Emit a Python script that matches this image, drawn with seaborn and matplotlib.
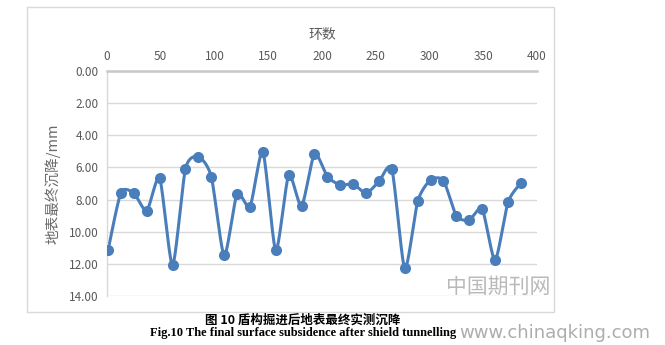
import numpy as np
import pandas as pd
import matplotlib
matplotlib.use("Agg")
import matplotlib.pyplot as plt
import seaborn as sns
from matplotlib.patches import Rectangle

# ---- data ----
rings = [1, 13, 25, 37, 49, 61, 73, 85, 97, 109, 121, 133, 145, 157, 169, 181, 193,
         205, 217, 229, 241, 253, 265, 277, 289, 301, 313, 325, 337, 349, 361, 373, 385]
settlement = [11.14, 7.57, 7.61, 8.69, 6.68, 12.07, 6.08, 5.33, 6.57, 11.47, 7.65, 8.44,
              5.04, 11.16, 6.49, 8.40, 5.16, 6.57, 7.09, 7.03, 7.61, 6.87, 6.12, 12.28,
              8.11, 6.78, 6.82, 9.02, 9.27, 8.59, 11.76, 8.17, 6.97]
x_ticks = [0, 50, 100, 150, 200, 250, 300, 350, 400]
y_ticks = [0, 2, 4, 6, 8, 10, 12, 14]
x_title = "环数"
y_title = "地表最终沉降/mm"
caption_cn = "图 10 盾构掘进后地表最终实测沉降"
caption_en = "Fig.10 The final surface subsidence after shield tunnelling"

sns.set_theme(style="white")
plt.rcParams['font.family'] = ['Noto Sans CJK SC', 'DejaVu Sans']

W, H = 665, 345
fig = plt.figure(figsize=(W / 100, H / 100), dpi=100)
fig.patch.set_facecolor("white")

# chart border
fig.patches.append(Rectangle((27 / W, 1 - 312 / H), (554 - 27) / W, (312 - 7) / H,
                             transform=fig.transFigure, fill=False,
                             edgecolor="#d9d9d9", linewidth=1.0))

ax = fig.add_axes([107 / W, 1 - 296 / H, (537 - 107) / W, (296 - 71) / H])

# smoothed line (cardinal spline through the data points, like Excel's smoothed line)
P = np.column_stack([np.array(rings, float), np.array(settlement, float)])
n = len(P)
tension = 0.7
M = np.zeros_like(P)
for i in range(n):
    a = P[max(i - 1, 0)]
    b = P[min(i + 1, n - 1)]
    M[i] = tension * (b - a) / 2.0
sx, sy = [], []
ts = np.linspace(0, 1, 30)
for i in range(n - 1):
    p1, p2, m1, m2 = P[i], P[i + 1], M[i], M[i + 1]
    tt = ts if i == n - 2 else ts[:-1]
    for t in tt:
        h00 = 2 * t**3 - 3 * t**2 + 1
        h10 = t**3 - 2 * t**2 + t
        h01 = -2 * t**3 + 3 * t**2
        h11 = t**3 - t**2
        pt = h00 * p1 + h10 * m1 + h01 * p2 + h11 * m2
        sx.append(pt[0]); sy.append(pt[1])
smooth = pd.DataFrame({"x": sx, "y": sy})
pts = pd.DataFrame({"x": rings, "y": settlement})

color = "#4A7EBB"
sns.lineplot(data=smooth, x="x", y="y", sort=False, estimator=None, ax=ax,
             color=color, linewidth=2.2)
sns.scatterplot(data=pts, x="x", y="y", ax=ax, color=color, s=64,
                edgecolor=color, linewidth=0, zorder=5)

ax.set_xlim(0, 400)
ax.set_ylim(14, 0)
ax.set_xticks(x_ticks)
ax.set_yticks(y_ticks)
ax.set_yticklabels([f"{v:.2f}" for v in y_ticks])
ax.xaxis.tick_top()
ax.xaxis.set_label_position("top")
ax.tick_params(axis="both", length=0, labelsize=8.5, labelcolor="#595959", pad=6)
ax.set_xlabel(x_title, fontsize=10, color="#595959", labelpad=8)
ax.set_ylabel(y_title, fontsize=10.5, color="#6a6a6a", labelpad=6)
ax.grid(axis="y", color="#d9d9d9", linewidth=1.0)
ax.grid(axis="x", visible=False)
for side in ["right", "bottom"]:
    ax.spines[side].set_visible(False)
ax.spines["top"].set_color("#c8c8c8")
ax.spines["top"].set_linewidth(1.8)
ax.spines["left"].set_color("#d9d9d9")
ax.spines["left"].set_linewidth(1.0)

# captions
fig.text(303 / W, 1 - 320 / H, caption_cn, ha="center", va="center", fontsize=9,
         fontweight="bold", family=['Noto Sans CJK SC', 'DejaVu Sans'], color="black")
fig.text(303 / W, 1 - 333 / H, caption_en, ha="center", va="center", fontsize=9,
         fontweight="bold", family=['Liberation Serif', 'DejaVu Serif'], color="black")

# watermarks
fig.text(498 / W, 1 - 287 / H, "中国期刊网", ha="center", va="center", fontsize=15,
         color="#a8a8a8", alpha=0.8, family=['Noto Sans CJK SC'])
fig.text(555 / W, 1 - 333 / H, "www.chinaqking.com", ha="center", va="center",
         fontsize=13, color="#8a8a8a", alpha=0.7, family=['DejaVu Sans'])

fig.savefig("out.png", dpi=100, facecolor="white")
